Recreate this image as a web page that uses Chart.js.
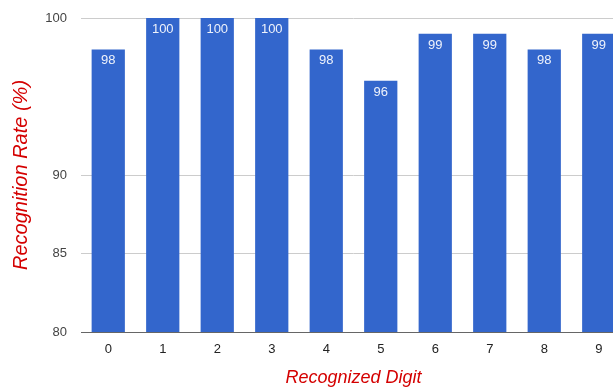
<!doctype html>
<html>

<head>
    <title>Recognition Rate</title>
    <script src="https://cdn.jsdelivr.net/npm/chart.js"></script>
    <style>
        body { margin: 0; overflow: hidden; background: #fff; }
        #wrap { position: absolute; left: 0; top: 0; width: 626px; height: 389px; }
    </style>
</head>

<body>
    <div id="wrap">
        <canvas id="grafico"></canvas>
    </div>

    <script>

    const digitos = ['0', '1', '2', '3', '4', '5', '6', '7', '8', '9'];
    const taxas = [98, 100, 100, 100, 98, 96, 99, 99, 98, 99];
    const ticksY = [80, 85, 90, 100];

    const FONTE = "Arial, 'Liberation Sans', sans-serif";

    // escreve o valor dentro do topo de cada barra
    const rotulos = {
        id: 'rotulos',
        afterDatasetsDraw(chart) {
            const ctx = chart.ctx;
            const meta = chart.getDatasetMeta(0);
            ctx.save();
            ctx.font = '13px ' + FONTE;
            ctx.fillStyle = '#eef2fb';
            ctx.textAlign = 'center';
            ctx.textBaseline = 'top';
            meta.data.forEach((barra, i) => {
                ctx.fillText(String(chart.data.datasets[0].data[i]), barra.x, barra.y + 5);
            });
            ctx.restore();
        }
    };

    var grafico = new Chart(document.getElementById('grafico').getContext('2d'), {
        type: 'bar',
        data: {
            labels: digitos,
            datasets: [{
                data: taxas,
                backgroundColor: '#3366CC',
                barPercentage: 0.61,
                categoryPercentage: 1
            }]
        },
        options: {
            responsive: true,
            maintainAspectRatio: false,
            animation: false,
            layout: { padding: { top: 18, right: 0, left: 0, bottom: 0 } },
            plugins: {
                legend: { display: false },
                tooltip: { enabled: false }
            },
            scales: {
                x: {
                    grid: { display: false, drawTicks: false },
                    border: { display: true, color: '#666', width: 1 },
                    ticks: { color: '#222', padding: 10, font: { family: FONTE, size: 13 } },
                    title: {
                        display: true,
                        text: 'Recognized Digit',
                        color: '#d40000',
                        padding: 0,
                        font: { family: FONTE, size: 18, style: 'italic' }
                    },
                    afterFit(scale) { scale.height = 57; }
                },
                y: {
                    min: 80,
                    max: 100,
                    afterBuildTicks(scale) { scale.ticks = ticksY.map(v => ({ value: v })); },
                    grid: { color: '#cccccc', drawTicks: false },
                    border: { display: false },
                    ticks: { color: '#444', padding: 14, font: { family: FONTE, size: 13 } },
                    title: {
                        display: true,
                        text: 'Recognition Rate (%)',
                        color: '#d40000',
                        padding: { top: 9, bottom: 0 },
                        font: { family: FONTE, size: 20, style: 'italic' }
                    },
                    afterFit(scale) {
                        scale.width = 81;
                        scale.paddingTop = 0;
                        scale.paddingBottom = 0;
                    }
                }
            }
        },
        plugins: [rotulos]
    });

    </script>
</body>

</html>
